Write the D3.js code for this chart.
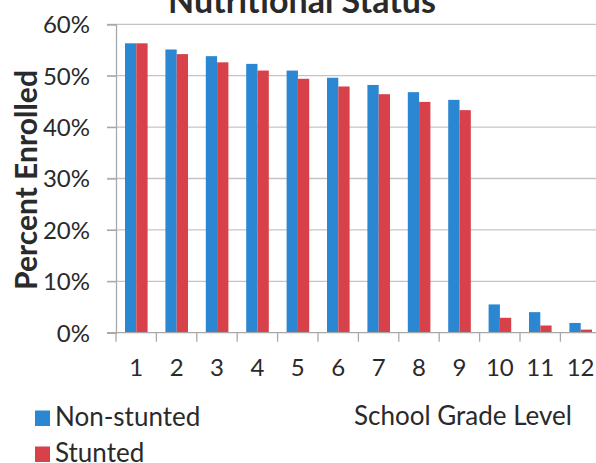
<!DOCTYPE html>
<html>
<head>
<meta charset="utf-8">
<script src="https://cdn.jsdelivr.net/npm/d3@7"></script>
<style>
  body { margin: 0; background: #fff; }
  svg { display: block; }
  text { font-family: Lato, "Open Sans", sans-serif; fill: #2a2a2a; }
</style>
</head>
<body>
<svg id="chart" width="596" height="463"></svg>
<script>
//DATA
var grades = ["1","2","3","4","5","6","7","8","9","10","11","12"];
var seriesNames = ["Non-stunted","Stunted"];
var nonStunted = [56.3, 55.1, 53.8, 52.3, 51.0, 49.6, 48.2, 46.8, 45.3, 5.5, 4.0, 1.9];
var stunted    = [56.3, 54.2, 52.6, 51.0, 49.4, 47.9, 46.4, 44.9, 43.3, 2.9, 1.4, 0.6];
var yTicks = [0, 10, 20, 30, 40, 50, 60];

var colors = {"Non-stunted": "#2b87d1", "Stunted": "#d8404a"};

function draw(){
  var svg = d3.select("#chart");

  //layout
  var plotLeft = 116, plotTop = 24.3, plotBottom = 332.7;
  var bandW = 40.4;
  var axisColor = "#a8a8a8";

  var x = d3.scaleBand().domain(grades).range([plotLeft, plotLeft + bandW*grades.length]);
  var xs = d3.scaleBand().domain(seriesNames).range([9, 31.6]);
  var y = d3.scaleLinear().domain([0, 60]).range([plotBottom, plotTop]);

  //gridlines
  svg.append("g").selectAll("line").data(yTicks.filter(d => d > 0)).join("line")
    .attr("x1", plotLeft - 9).attr("x2", 596)
    .attr("y1", d => y(d)).attr("y2", d => y(d))
    .style("stroke", "#c8c3c3").style("stroke-width", 1.3);

  //y axis
  var yAxis = d3.axisLeft(y).tickValues(yTicks).tickSize(9).tickFormat(d => d + "%");
  var yg = svg.append("g").attr("transform", "translate(" + plotLeft + ",0)").call(yAxis);
  yg.select(".domain").style("stroke", axisColor).style("stroke-width", 1.3);
  yg.selectAll(".tick line").style("stroke", axisColor).style("stroke-width", 1.3);
  yg.selectAll(".tick text")
    .attr("x", -26).attr("dy", "0.35em")
    .style("font-size", "24px").style("fill", "#2a2a2a")
    .style("font-family", "Lato, sans-serif");

  //bars
  var rows = grades.map((g, i) => ({grade: g, values: [
    {name: "Non-stunted", value: nonStunted[i]},
    {name: "Stunted", value: stunted[i]}
  ]}));

  svg.append("g").selectAll("g").data(rows).join("g")
    .attr("transform", d => "translate(" + x(d.grade) + ",0)")
    .selectAll("rect").data(d => d.values).join("rect")
      .attr("x", d => xs(d.name))
      .attr("width", xs.bandwidth())
      .attr("y", d => y(d.value))
      .attr("height", d => y(0) - y(d.value))
      .style("fill", d => colors[d.name]);

  //x axis
  var xAxis = d3.axisBottom(x).tickSize(0).tickPadding(0);
  var xg = svg.append("g").attr("transform", "translate(0," + plotBottom + ")").call(xAxis);
  xg.select(".domain").remove();
  svg.append("line")
    .attr("x1", plotLeft - 9).attr("x2", 596)
    .attr("y1", plotBottom).attr("y2", plotBottom)
    .style("stroke", axisColor).style("stroke-width", 1.3);
  xg.selectAll(".tick text")
    .attr("y", 43).attr("dy", 0)
    .style("font-size", "24px").style("fill", "#2a2a2a")
    .style("font-family", "Lato, sans-serif");
  //tick marks sit on the band edges
  svg.append("g").selectAll("line").data(grades).join("line")
    .attr("x1", d => x(d)).attr("x2", d => x(d))
    .attr("y1", plotBottom).attr("y2", plotBottom + 9)
    .style("stroke", axisColor).style("stroke-width", 1.3);

  //titles
  svg.append("text")
    .attr("x", 302).attr("y", 13)
    .attr("text-anchor", "middle")
    .style("font-size", "34px").style("font-weight", "bold")
    .text("Nutritional Status");

  svg.append("text")
    .attr("transform", "translate(37,180) rotate(-90)")
    .attr("text-anchor", "middle")
    .style("font-size", "30px").style("font-weight", "bold")
    .text("Percent Enrolled");

  svg.append("text")
    .attr("x", 463).attr("y", 425)
    .attr("text-anchor", "middle")
    .style("font-size", "26px")
    .text("School Grade Level");

  //legend
  var legend = svg.append("g").selectAll("g").data(seriesNames).join("g")
    .attr("transform", (d, i) => "translate(35," + (426 + i*36) + ")");
  legend.append("rect")
    .attr("x", 0).attr("y", -15.5).attr("width", 15).attr("height", 15.5)
    .style("fill", d => colors[d]);
  legend.append("text")
    .attr("x", 20).attr("y", 0)
    .style("font-size", "26px")
    .text(d => d);
}

draw();
</script>
</body>
</html>
